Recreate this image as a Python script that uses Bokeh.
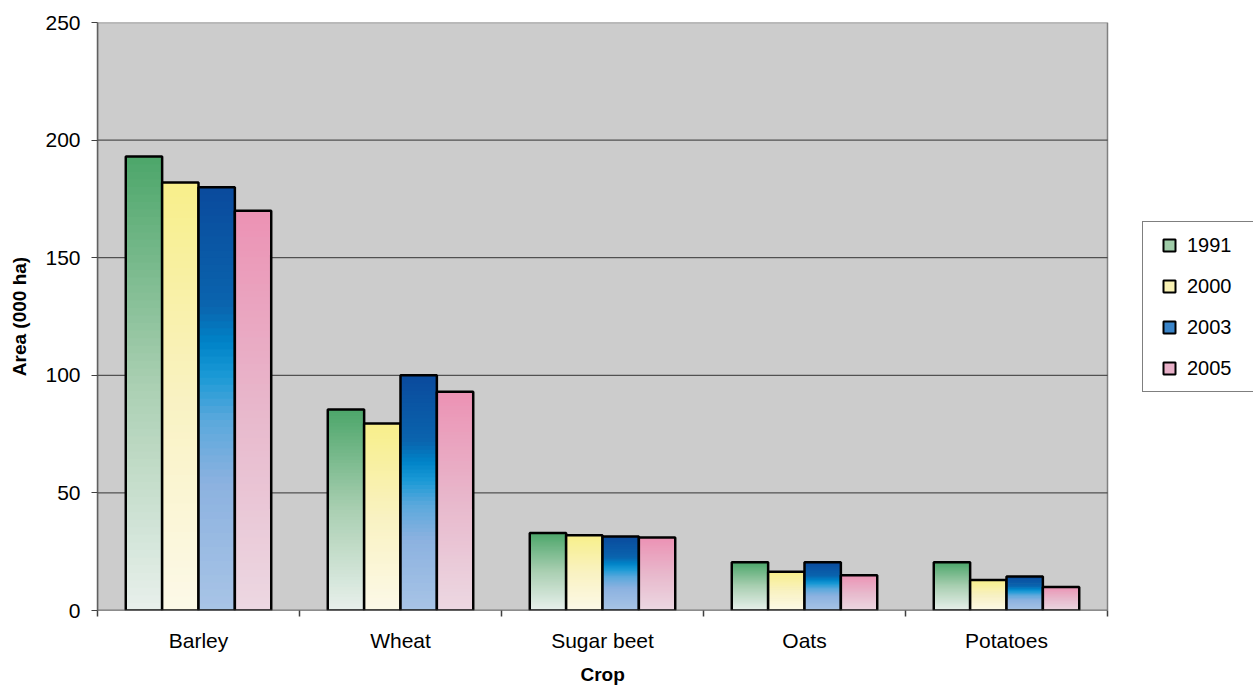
from bokeh.plotting import figure
from bokeh.models import Range1d, FixedTicker, Legend, LegendItem, Title
from bokeh.embed import file_html
from bokeh.resources import INLINE

crops = ["Barley", "Wheat", "Sugar beet", "Oats", "Potatoes"]
years = ["1991", "2000", "2003", "2005"]
v1991 = [193, 85.5, 33, 20.5, 20.5]
v2000 = [182, 79.5, 32, 16.5, 13]
v2003 = [180, 100, 31.5, 20.5, 14.5]
v2005 = [170, 93, 31, 15, 10]
series = [v1991, v2000, v2003, v2005]
yticks = [0, 50, 100, 150, 200, 250]
ymax = 250

# gradient stops: (fraction from bottom, color)
stops = [
    [(0.0, "#e8f0ec"), (0.5, "#aacfb2"), (1.0, "#4ca66a")],
    [(0.0, "#fcf9e8"), (0.5, "#f9f2c2"), (1.0, "#f8ef8a")],
    [(0.0, "#a8c4e6"), (0.3, "#8cb2e0"), (0.45, "#5aa8dc"), (0.55, "#1c9ad6"), (0.63, "#0084c8"), (0.72, "#0a64ae"), (1.0, "#0a4a9c")],
    [(0.0, "#ecd8e2"), (0.5, "#e8b8cc"), (1.0, "#ec92b4")],
]
legend_colors = ["#9fcca8", "#f9f2b4", "#3a84c8", "#e8b0c8"]


def hex2rgb(h):
    return tuple(int(h[i:i + 2], 16) for i in (1, 3, 5))


def interp(st, t):
    for (t0, c0), (t1, c1) in zip(st[:-1], st[1:]):
        if t0 <= t <= t1:
            f = 0 if t1 == t0 else (t - t0) / (t1 - t0)
            a, b = hex2rgb(c0), hex2rgb(c1)
            return "#%02x%02x%02x" % tuple(int(round(a[i] + (b[i] - a[i]) * f)) for i in range(3))
    return st[-1][1]


ncat = len(crops)
W, H = 1253, 691
left_px, plot_right_px = 97, 1107
# the frame extends to the right edge so the legend can sit beside the grey plot area
x_end = ncat * (W - left_px) / (plot_right_px - left_px)

p = figure(width=W, height=H, output_backend="svg", toolbar_location=None,
           x_range=Range1d(0, x_end), y_range=Range1d(0, ymax),
           min_border_left=left_px, min_border_top=22, min_border_bottom=81, min_border_right=0)
p.background_fill_color = "white"
p.border_fill_color = "white"
p.outline_line_color = None

# grey plot area
p.quad(left=[0], right=[ncat], bottom=[0], top=[ymax], fill_color="#cccccc",
       line_color="#808080", line_width=1.5)
# horizontal gridlines
gy = [t for t in yticks if 0 < t < ymax]
p.segment(x0=[0] * len(gy), x1=[ncat] * len(gy), y0=gy, y1=gy, line_color="#333333", line_width=1)

group = 0.72
bw = group / 4
N = 60
centers = [i + 0.5 for i in range(ncat)]
for si, vals in enumerate(series):
    xs = [c + (si - 1.5) * bw for c in centers]
    lefts, rights, bottoms, tops, cols = [], [], [], [], []
    for x, v in zip(xs, vals):
        for k in range(N):
            lefts.append(x - bw / 2)
            rights.append(x + bw / 2)
            bottoms.append(v * k / N)
            tops.append(min(v, v * (k + 2) / N))
            cols.append(interp(stops[si], (k + 0.5) / N))
    p.quad(left=lefts, right=rights, bottom=bottoms, top=tops, fill_color=cols, line_color=None)
    p.quad(left=[x - bw / 2 for x in xs], right=[x + bw / 2 for x in xs], bottom=0, top=vals,
           fill_color=None, line_color="black", line_width=2.5)

# bottom axis line over the grey area only
p.segment(x0=[0], x1=[ncat], y0=[0], y1=[0], line_color="#606060", line_width=1.5)

items = []
nan = float("nan")
for si, y in enumerate(years):
    r = p.scatter(x=[nan], y=[nan], marker="square", size=12, fill_color=legend_colors[si],
                  line_color="black", line_width=2)
    items.append(LegendItem(label=y, renderers=[r]))

legend = Legend(items=items, location=(1045, 218), orientation="vertical")
legend.glyph_width = 36
legend.glyph_height = 30
legend.label_height = 12
legend.spacing = 11
legend.padding = 8
legend.margin = 0
legend.label_standoff = 0
legend.label_width = 58
legend.label_text_font = "Liberation Sans"
legend.label_text_font_size = "20px"
legend.label_text_color = "black"
legend.label_text_baseline = "middle"
legend.border_line_color = "black"
legend.border_line_width = 1
legend.background_fill_color = "white"
legend.background_fill_alpha = 1
p.add_layout(legend, "center")

p.xgrid.grid_line_color = None
p.ygrid.grid_line_color = None

p.yaxis.ticker = FixedTicker(ticks=yticks)
p.yaxis.axis_line_color = "#606060"
p.yaxis.axis_line_width = 1.5
p.yaxis.major_tick_out = 6
p.yaxis.major_tick_in = 0
p.yaxis.major_tick_line_color = "#404040"
p.yaxis.minor_tick_line_color = None
p.yaxis.major_label_standoff = 11
p.yaxis.major_label_text_font = "Liberation Sans"
p.yaxis.major_label_text_font_size = "21px"
p.yaxis.major_label_text_color = "black"
p.yaxis.axis_label = "Area (000 ha)"
p.yaxis.axis_label_text_font = "Liberation Sans"
p.yaxis.axis_label_text_font_size = "19px"
p.yaxis.axis_label_text_font_style = "bold"
p.yaxis.axis_label_text_color = "black"
p.yaxis.axis_label_standoff = 12

p.xaxis.ticker = FixedTicker(ticks=centers, minor_ticks=list(range(ncat + 1)))
p.xaxis.major_label_overrides = {c: n for c, n in zip(centers, crops)}
p.xaxis.axis_line_color = None
p.xaxis.major_tick_line_color = None
p.xaxis.major_tick_out = 0
p.xaxis.major_tick_in = 0
p.xaxis.minor_tick_out = 6
p.xaxis.minor_tick_in = 0
p.xaxis.minor_tick_line_color = "#404040"
p.xaxis.minor_tick_line_width = 1.5
p.xaxis.major_label_standoff = 12
p.xaxis.major_label_text_font = "Liberation Sans"
p.xaxis.major_label_text_font_size = "21px"
p.xaxis.major_label_text_color = "black"

xtitle = Title(text="Crop", align="left", offset=483, text_font="Liberation Sans",
               text_font_size="19px", text_font_style="bold", text_color="black", standoff=14)
p.add_layout(xtitle, "below")

open("out.html", "w").write(file_html(p, INLINE))
